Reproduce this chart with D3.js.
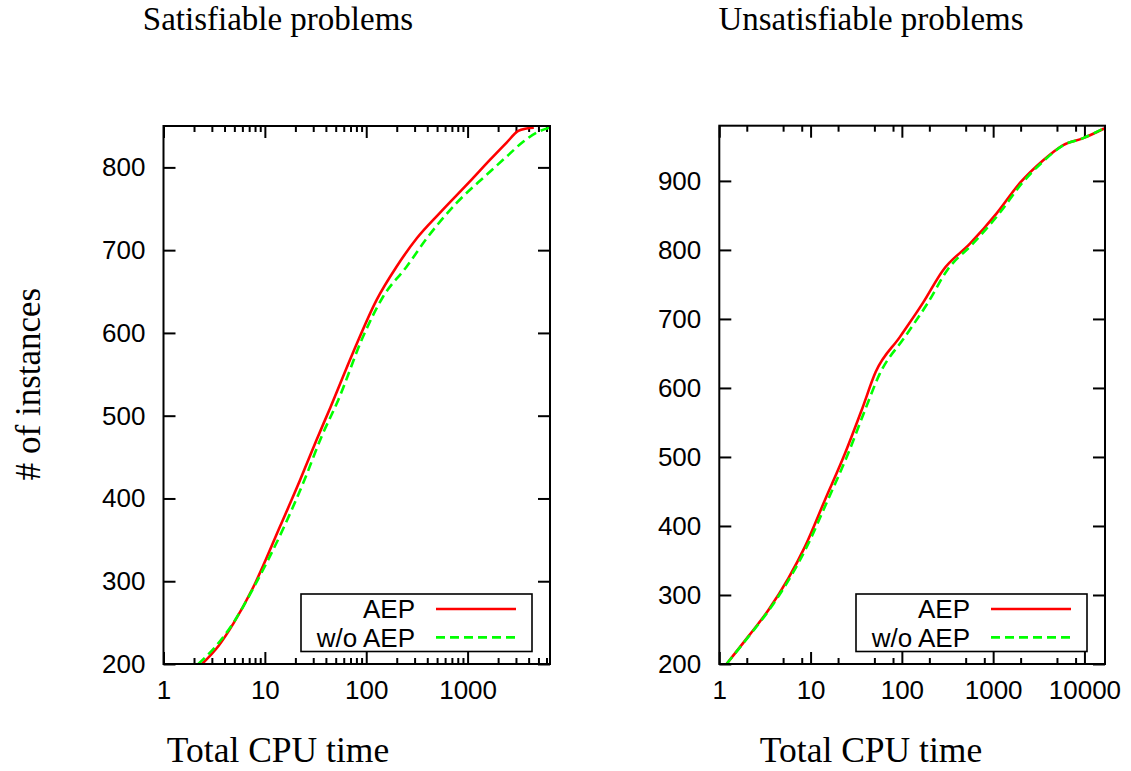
<!DOCTYPE html>
<html>
<head>
<meta charset="utf-8">
<script src="https://cdn.jsdelivr.net/npm/d3@7/dist/d3.min.js"></script>
<style>
  html, body { margin: 0; padding: 0; background: #fff; }
  svg { display: block; }
  .tick text { font-family: "Liberation Sans", Arial, sans-serif; font-size: 26px; fill: #000; }
  .serif { font-family: "Liberation Serif", "Times New Roman", serif; fill: #000; }
</style>
</head>
<body>
<svg id="chart" width="1131" height="771"></svg>
<script>
// Cumulative solved instances vs. total CPU time: [time, instances]
const satAEP = [[2.4,200],[3.5,222],[4.9,249],[7.7,293],[14.1,366],[22.2,422],[32.4,471],[44.3,510],
  [74.5,577],[126.7,640],[199,680],[314,714],[533,745],[1054,783],[1660,809],
  [2427,830],[3160,844],[3820,847],[4500,848]];
const satNoAEP = [[2.2,200],[3.2,220],[4.9,250],[7.8,293],[15.5,366],[24.5,422],[36.3,475],[53,519],
  [93.4,596],[147,644],[250,680],[394,714],[779,757],[1539,791],[2426,813],[3532,831],
  [4790,842],[6400,848]];
const unsatAEP = [[1.2,200],[2.08,240],[3.44,278],[5.7,324],[8.68,370],[14.4,438],[23.8,505],
  [36.3,568],[51.6,623],[95.3,674],[171.5,724],[284,771],[557,809],[1092,853],
  [1966,897],[3538,930],[5860,952],[9700,962],[16500,976]];
const unsatNoAEP = [[1.2,200],[2.1,240],[3.5,278],[5.9,324],[9.1,370],[15.5,438],[25.8,505],
  [39.5,568],[57,620],[108,674],[194,724],[315,771],[600,809],[1170,853],
  [2080,897],[3650,930],[5900,952],[9700,962],[16700,977]];

const satXTicks = [1, 10, 100, 1000];
const unsatXTicks = [1, 10, 100, 1000, 10000];
const satYTicks = [200, 300, 400, 500, 600, 700, 800];
const unsatYTicks = [200, 300, 400, 500, 600, 700, 800, 900];
const satMinorX = [2,3,4,5,6,7,8,9,20,30,40,50,60,70,80,90,200,300,400,500,600,700,800,900,2000,3000,4000,5000,6000];
const unsatMinorX = [2,5,8,20,50,80,200,500,800,2000,5000,8000];

const seriesNames = ["AEP", "w/o AEP"];
const titles = ["Satisfiable problems", "Unsatisfiable problems"];
const xTitle = "Total CPU time";
const yTitle = "# of instances";

const svg = d3.select("#chart");

const panels = [
  { left: 163.5, right: 550, top: 126, bottom: 664, xMax: 6500, yDom: [200, 850], textX: 278,
    xTicks: satXTicks, yTicks: satYTicks, minor: satMinorX, series: [satAEP, satNoAEP], title: titles[0] },
  { left: 719.3, right: 1105, top: 125.7, bottom: 664, xMax: 16800, yDom: [200, 980], textX: 871,
    xTicks: unsatXTicks, yTicks: unsatYTicks, minor: unsatMinorX, series: [unsatAEP, unsatNoAEP], title: titles[1] }
];

const styles = [
  { color: "#ff0000", dash: null },
  { color: "#00ff00", dash: "9,5" }
];

panels.forEach(p => {
  const x = d3.scaleLog().domain([1, p.xMax]).range([p.left, p.right]);
  const y = d3.scaleLinear().domain(p.yDom).range([p.bottom, p.top]);
  const g = svg.append("g");
  const w = p.right - p.left, h = p.bottom - p.top;

  // major ticks + labels (inward ticks, mirrored on opposite sides)
  g.append("g").attr("transform", `translate(0,${p.bottom})`)
    .call(d3.axisBottom(x).tickValues(p.xTicks).tickFormat(d3.format("d"))
      .tickSizeInner(-12).tickSizeOuter(0).tickPadding(17));
  g.append("g").attr("transform", `translate(0,${p.top})`)
    .call(d3.axisTop(x).tickValues(p.xTicks).tickFormat("").tickSizeInner(-12).tickSizeOuter(0));
  g.append("g").attr("transform", `translate(${p.left},0)`)
    .call(d3.axisLeft(y).tickValues(p.yTicks).tickSizeInner(-12).tickSizeOuter(0).tickPadding(18));
  g.append("g").attr("transform", `translate(${p.right},0)`)
    .call(d3.axisRight(y).tickValues(p.yTicks).tickFormat("").tickSizeInner(-12).tickSizeOuter(0));

  // minor ticks on the log axis
  g.append("g").attr("transform", `translate(0,${p.bottom})`)
    .call(d3.axisBottom(x).tickValues(p.minor).tickFormat("").tickSizeInner(-6).tickSizeOuter(0));
  g.append("g").attr("transform", `translate(0,${p.top})`)
    .call(d3.axisTop(x).tickValues(p.minor).tickFormat("").tickSizeInner(-6).tickSizeOuter(0));

  g.selectAll(".domain").remove();
  g.selectAll(".tick line").attr("stroke", "#000").attr("stroke-width", 2);

  // curves
  const line = d3.line().x(d => x(d[0])).y(d => y(d[1])).curve(d3.curveMonotoneX);
  p.series.forEach((s, i) => {
    g.append("path").datum(s)
      .attr("d", line)
      .attr("fill", "none")
      .attr("stroke", styles[i].color)
      .attr("stroke-width", 2.6)
      .attr("stroke-dasharray", styles[i].dash);
  });

  // frame
  g.append("rect").attr("x", p.left).attr("y", p.top).attr("width", w).attr("height", h)
    .attr("fill", "none").attr("stroke", "#000").attr("stroke-width", 2);

  // legend
  const lg = g.append("g").attr("transform", `translate(${p.right - 249},${p.bottom - 70})`);
  lg.append("rect").attr("x", 0).attr("y", 0).attr("width", 231).attr("height", 57.5)
    .attr("fill", "#fff").attr("stroke", "#000").attr("stroke-width", 1.6);
  seriesNames.forEach((name, i) => {
    const yy = 15 + i * 28.4;
    lg.append("text").attr("x", 114).attr("y", yy).attr("dy", "0.36em")
      .attr("text-anchor", "end")
      .style("font-family", "'Liberation Sans', Arial, sans-serif").style("font-size", "26px")
      .text(name);
    lg.append("line").attr("x1", 135).attr("x2", 215).attr("y1", yy).attr("y2", yy)
      .attr("stroke", styles[i].color).attr("stroke-width", 2.6)
      .attr("stroke-dasharray", styles[i].dash);
  });

  // panel title and x-axis title
  svg.append("text").attr("class", "serif").style("font-size", "33px")
    .attr("x", p.textX).attr("y", 30).attr("text-anchor", "middle").text(p.title);
  svg.append("text").attr("class", "serif").style("font-size", "35.5px")
    .attr("x", p.textX).attr("y", 762).attr("text-anchor", "middle").text(xTitle);
});

svg.append("text").attr("class", "serif").style("font-size", "35px")
  .attr("transform", "translate(40,384) rotate(-90)")
  .attr("text-anchor", "middle").text(yTitle);
</script>
</body>
</html>
